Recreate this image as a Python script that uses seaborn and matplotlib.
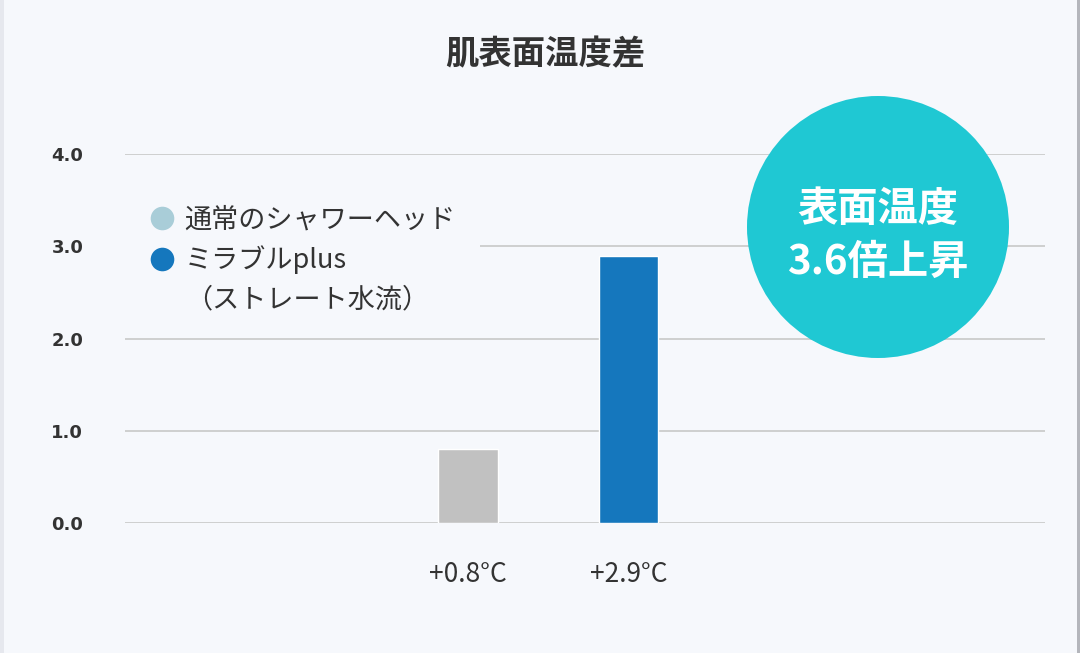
import matplotlib
matplotlib.use('Agg')
import matplotlib.pyplot as plt
import seaborn as sns
import pandas as pd
from matplotlib.lines import Line2D
from matplotlib.patches import Ellipse, Rectangle

# Data
categories = ['+0.8°C', '+2.9°C']
values = [0.8, 2.9]
bar_colors = ['#c1c1c1', '#1577bd']
legend_labels = ['通常のシャワーヘッド', 'ミラブルplus', '（ストレート水流）']
legend_colors = ['#a9cdd8', '#1577bd', 'none']
yticks = [0.0, 1.0, 2.0, 3.0, 4.0]
title = '肌表面温度差'
badge_text = '表面温度\n3.6倍上昇'

bg = '#f6f8fc'
txt = '#333333'

sns.set_style('white')
plt.rcParams['font.family'] = ['Noto Sans CJK JP', 'DejaVu Sans']

df = pd.DataFrame({'cat': categories, 'val': values})

fig = plt.figure(figsize=(10.8, 6.53), dpi=100, facecolor=bg)
ax = fig.add_axes([0.1157, 0.199, 0.852, 0.565])
ax.set_facecolor(bg)

sns.barplot(data=df, x='cat', y='val', hue='cat', palette=bar_colors,
            width=0.37, saturation=1, legend=False, ax=ax, zorder=3)

ax.set_xlim(-2.14, 3.6)
ax.set_ylim(0, 4)
ax.set_yticks(yticks)
ax.set_yticklabels([f'{t:.1f}' for t in yticks], fontsize=13,
                   fontweight='semibold', color=txt, family=['DejaVu Sans'])
ax.tick_params(axis='y', length=0, pad=30)
ax.tick_params(axis='x', length=0, pad=27, labelsize=19, labelcolor=txt)
ax.set_xlabel('')
ax.set_ylabel('')
ax.grid(axis='y', color='#c8c8c8', linewidth=1.2, zorder=0)
for s in ax.spines.values():
    s.set_visible(False)

# the legend area hides the 3.0 gridline up to about x=480px
ax.add_patch(Rectangle((0, 2.8), (480 - 125) / 920, 0.4, transform=ax.get_yaxis_transform(),
                       facecolor=bg, edgecolor='none', zorder=1))

# legend with round markers (third row is the continuation of the second label)
handles = [Line2D([0], [0], marker='o', color='none', markerfacecolor=c,
                  markeredgecolor='none', markersize=17) for c in legend_colors]
leg = ax.legend(handles, legend_labels, loc='upper left',
                bbox_to_anchor=(-0.004, 0.925), frameon=False, fontsize=19.5,
                handletextpad=0.28, labelspacing=0.44, borderpad=0.42,
                handlelength=1.14)
for t in leg.get_texts():
    t.set_color(txt)
leg.set_zorder(5)

fig.text(0.505, 0.916, title, ha='center', va='center', fontsize=24,
         fontweight='bold', color=txt)

# badge circle
fig.add_artist(Ellipse((878 / 1080, 1 - 227 / 653), 262 / 1080, 262 / 653,
                       transform=fig.transFigure, facecolor='#1fc8d3',
                       edgecolor='none', zorder=10))
fig.text(878 / 1080, 1 - 236 / 653, badge_text, ha='center', va='center',
         fontsize=29, fontweight='bold', color='white', linespacing=1.35,
         zorder=11)

# screenshot edges
fig.add_artist(Rectangle((1077 / 1080, 0), 3 / 1080, 1, transform=fig.transFigure,
                         facecolor='#b4b6bc', edgecolor='none'))
fig.add_artist(Rectangle((0, 0), 4 / 1080, 1, transform=fig.transFigure,
                         facecolor='#e6e8ee', edgecolor='none'))

fig.savefig('out.png', dpi=100, facecolor=bg)
